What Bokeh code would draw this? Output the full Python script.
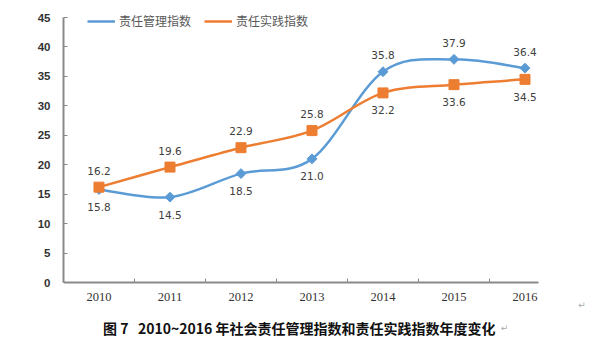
import numpy as np
from bokeh.plotting import figure
from bokeh.models import (ColumnDataSource, Range1d, FixedTicker, Legend, LegendItem, Label)
from bokeh.core.properties import value
from bokeh.embed import file_html
from bokeh.resources import INLINE

years = ["2010", "2011", "2012", "2013", "2014", "2015", "2016"]
mgmt = [15.8, 14.5, 18.5, 21.0, 35.8, 37.9, 36.4]      # 责任管理指数
prac = [16.2, 19.6, 22.9, 25.8, 32.2, 33.6, 34.5]      # 责任实践指数
y_ticks = [0, 5, 10, 15, 20, 25, 30, 35, 40, 45]
name_mgmt = "责任管理指数"
name_prac = "责任实践指数"
caption = "图 7\u00a0\u00a0\u00a02010~2016 年社会责任管理指数和责任实践指数年度变化"

BLUE = "#5B9BD5"
ORANGE = "#ED7D31"
AXIS = "#898989"
TXT = "#404040"

xs = np.arange(len(years)) + 0.5


def smooth(xv, yv):
    xv = np.asarray(xv, float)
    yv = np.asarray(yv, float)
    px = np.concatenate([[xv[0]], xv, [xv[-1]]])
    py = np.concatenate([[yv[0]], yv, [yv[-1]]])
    n = len(xv)
    d = dict(x0=[], y0=[], x1=[], y1=[], cx0=[], cy0=[], cx1=[], cy1=[])
    for i in range(n - 1):
        j = i + 1
        d["x0"].append(px[j]); d["y0"].append(py[j])
        d["x1"].append(px[j + 1]); d["y1"].append(py[j + 1])
        d["cx0"].append(px[j] + (px[j + 1] - px[j - 1]) / 6)
        d["cy0"].append(py[j] + (py[j + 1] - py[j - 1]) / 6)
        d["cx1"].append(px[j + 1] - (px[j + 2] - px[j]) / 6)
        d["cy1"].append(py[j + 1] - (py[j + 2] - py[j]) / 6)
    return ColumnDataSource(d)


p = figure(width=597, height=348, output_backend="svg", toolbar_location=None,
           x_range=Range1d(0, 7.493), y_range=Range1d(-10.86, 47.55),
           min_border_left=63, min_border_right=2, min_border_top=2, min_border_bottom=2)
p.outline_line_color = None
p.grid.visible = False
p.background_fill_color = "white"
p.border_fill_color = "white"

# axes
p.yaxis.ticker = FixedTicker(ticks=y_ticks)
p.yaxis.bounds = (0, 45)
p.yaxis.major_tick_in = 4
p.yaxis.major_tick_out = 0
p.yaxis.minor_tick_line_color = None
p.yaxis.axis_line_color = AXIS
p.yaxis.axis_line_width = 2
p.yaxis.major_tick_line_color = AXIS
p.yaxis.major_label_standoff = 13
p.yaxis.major_label_text_font = "Liberation Sans"
p.yaxis.major_label_text_font_style = "bold"
p.yaxis.major_label_text_font_size = "11.5px"
p.yaxis.major_label_text_color = "#333333"

p.xaxis.fixed_location = 0
p.xaxis.bounds = (0, 6.69)
p.xaxis.ticker = FixedTicker(ticks=list(xs), minor_ticks=list(range(1, len(years))))
p.xaxis.major_label_overrides = {float(x): y for x, y in zip(xs, years)}
p.xaxis.major_tick_in = 0
p.xaxis.major_tick_out = 0
p.xaxis.minor_tick_in = 4
p.xaxis.minor_tick_out = 0
p.xaxis.minor_tick_line_color = AXIS
p.xaxis.axis_line_color = AXIS
p.xaxis.axis_line_width = 2
p.xaxis.major_label_standoff = 10
p.xaxis.major_label_text_font = "Liberation Serif"
p.xaxis.major_label_text_font_size = "12.5px"
p.xaxis.major_label_text_color = "#333333"

# lines
rb = p.bezier(x0="x0", y0="y0", x1="x1", y1="y1", cx0="cx0", cy0="cy0", cx1="cx1", cy1="cy1",
              source=smooth(xs, mgmt), line_color=BLUE, line_width=2.5)
ro = p.bezier(x0="x0", y0="y0", x1="x1", y1="y1", cx0="cx0", cy0="cy0", cx1="cx1", cy1="cy1",
              source=smooth(xs, prac), line_color=ORANGE, line_width=2.5)
mb = p.scatter(xs, mgmt, marker="square", angle=np.pi / 4, size=7, color=BLUE)
mo = p.scatter(xs, prac, marker="square", size=10, color=ORANGE)

# data labels: the lower series gets its label below, the upper above
above = -16.5
below = 17.5
dy_m = [below if m < q else above for m, q in zip(mgmt, prac)]
dy_p = [above if m < q else below for m, q in zip(mgmt, prac)]
lab = ColumnDataSource(dict(
    x=list(xs) + list(xs),
    y=mgmt + prac,
    t=[f"{v:.1f}" for v in mgmt + prac],
    dy=dy_m + dy_p,
))
p.text(x="x", y="y", text="t", y_offset="dy", source=lab, text_align="center",
       text_baseline="middle", text_font=value("DejaVu Sans"), text_font_size="10.5px",
       text_color=TXT)

# legend with small markers
lb = p.scatter(x=[], y=[], marker="square", angle=np.pi / 4, size=4.5, color=BLUE)
lo = p.scatter(x=[], y=[], marker="square", size=7, color=ORANGE)
legend = Legend(items=[LegendItem(label=name_mgmt, renderers=[rb, lb]),
                       LegendItem(label=name_prac, renderers=[ro, lo])],
                orientation="horizontal", location=(21, 314), margin=0, padding=3,
                glyph_width=28, glyph_height=16, label_height=16, label_standoff=4, spacing=13,
                label_text_font="Noto Sans CJK SC", label_text_font_size="12px",
                label_text_color="#595959", border_line_alpha=0, background_fill_alpha=0)
p.add_layout(legend)

# caption and paragraph marks
p.add_layout(Label(x=3.32, y=-7.64, text=caption, text_align="center", text_baseline="middle",
                   text_font="Noto Sans CJK SC", text_font_style="bold", text_font_size="14px",
                   text_color="#111111"))
p.add_layout(Label(x=6.16, y=-7.64, text="↵", text_align="left", text_baseline="middle",
                   text_font="DejaVu Sans", text_font_size="9px", text_color="#aaaaaa"))
p.add_layout(Label(x=7.25, y=-3.74, text="↵", text_align="left", text_baseline="middle",
                   text_font="DejaVu Sans", text_font_size="9px", text_color="#aaaaaa"))

open("out.html", "w").write(file_html(p, INLINE))
